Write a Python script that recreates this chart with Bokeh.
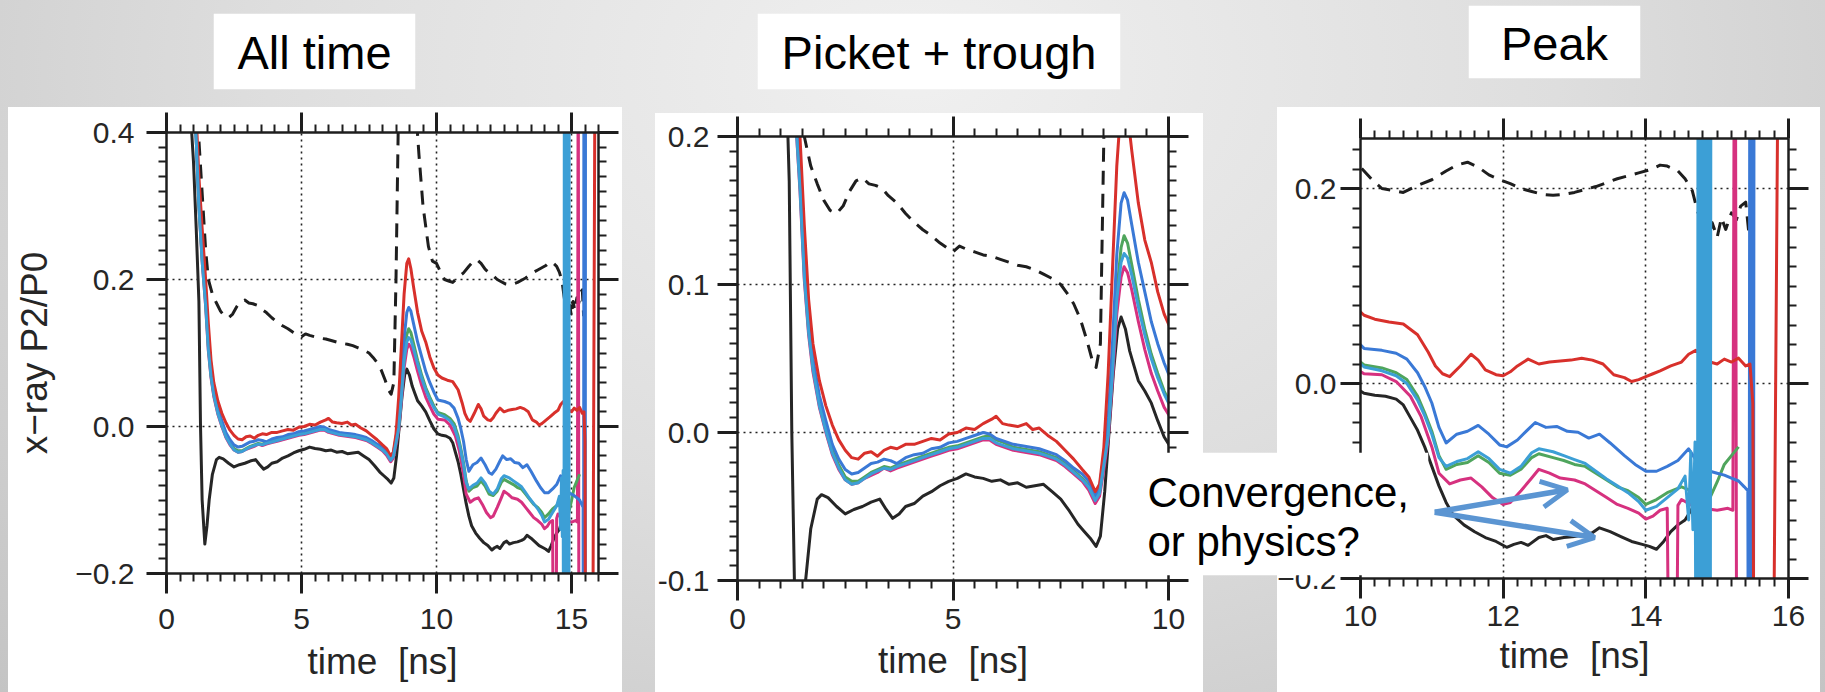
from bokeh.plotting import figure
from bokeh.models import (Range1d, LinearAxis, SingleIntervalTicker, CustomJSTickFormatter,
                          Column, Div, Arrow, OpenHead)
from bokeh.embed import file_html
from bokeh.resources import INLINE
from bokeh.core.properties import value

FONT = "Liberation Sans"
INK = "#1e1e1e"

# ---------------- texts ----------------
TITLES = ["All time", "Picket + trough", "Peak"]
X_LABEL = "time \u00a0[ns]"
Y_LABEL = "x\u2212ray P2/P0"
CALLOUT = ["Convergence,", "or physics?"]

# ---------------- data (time in ns, x-ray P2/P0) ----------------
BLACK_T = [0.9, 1.0, 1.1, 1.2, 1.26, 1.32, 1.42, 1.5, 1.58, 1.7,
           1.85, 1.95, 2.1, 2.3, 2.5, 2.7, 2.9, 3.1, 3.3, 3.45,
           3.6, 3.75, 3.9, 4.1, 4.3, 4.5, 4.7, 4.9, 5.1, 5.3,
           5.5, 5.7, 5.9, 6.1, 6.3, 6.5, 6.7, 6.9, 7.1, 7.3,
           7.5, 7.7, 7.9, 8.05, 8.2, 8.32, 8.42, 8.52, 8.62, 8.72,
           8.82, 8.9, 9.0, 9.1, 9.2, 9.3, 9.45, 9.6, 9.75, 9.9,
           10.05, 10.2, 10.35, 10.5, 10.6, 10.7, 10.8, 10.9, 11.0, 11.1,
           11.2, 11.3, 11.45, 11.6, 11.75, 11.9, 12.05, 12.15, 12.25, 12.35,
           12.5, 12.6, 12.7, 12.85, 13.0, 13.15, 13.25, 13.35, 13.5, 13.65,
           13.8, 13.95, 14.05, 14.15, 14.25, 14.35, 14.45, 14.55, 14.65, 14.72]
BLACK_V = [0.42, 0.36, 0.27, 0.17, 0.0, -0.1, -0.16, -0.135, -0.1, -0.065,
           -0.045, -0.042, -0.044, -0.05, -0.055, -0.052, -0.05, -0.047, -0.045, -0.052,
           -0.058, -0.055, -0.05, -0.048, -0.043, -0.04, -0.036, -0.033, -0.031, -0.028,
           -0.03, -0.031, -0.033, -0.032, -0.035, -0.034, -0.037, -0.036, -0.035, -0.04,
           -0.045, -0.053, -0.062, -0.067, -0.072, -0.077, -0.07, -0.04, 0.0, 0.04,
           0.07, 0.078, 0.07, 0.055, 0.045, 0.035, 0.028, 0.02, 0.008, -0.003,
           -0.01, -0.012, -0.013, -0.016, -0.022, -0.035, -0.048, -0.065, -0.085, -0.105,
           -0.122, -0.135, -0.145, -0.152, -0.158, -0.162, -0.168, -0.165, -0.163, -0.166,
           -0.158, -0.156, -0.16, -0.158, -0.157, -0.155, -0.153, -0.148, -0.152, -0.157,
           -0.162, -0.165, -0.167, -0.17, -0.162, -0.152, -0.145, -0.14, -0.128, -0.12]

DASH_T = [1.1, 1.3, 1.45, 1.55, 1.7, 1.85, 2.0, 2.15, 2.3, 2.45,
          2.6, 2.75, 2.9, 3.05, 3.2, 3.35, 3.5, 3.7, 3.9, 4.1,
          4.3, 4.5, 4.7, 4.85, 5.0, 5.15, 5.3, 5.5, 5.7, 5.9,
          6.1, 6.3, 6.5, 6.7, 6.9, 7.1, 7.3, 7.5, 7.65, 7.8,
          7.95, 8.1, 8.22, 8.32, 8.42, 8.5, 8.6, 9.2, 9.35, 9.5,
          9.7, 9.85, 10.0, 10.15, 10.3, 10.45, 10.6, 10.8, 11.0, 11.2,
          11.35, 11.5, 11.65, 11.8, 11.95, 12.1, 12.25, 12.4, 12.55, 12.7,
          12.85, 13.0, 13.15, 13.3, 13.45, 13.6, 13.75, 13.9, 14.05, 14.2,
          14.3, 14.45, 14.55, 14.65, 14.72, 14.8, 14.87, 14.93, 15.0, 15.06,
          15.12, 15.2, 15.27, 15.33, 15.4, 15.45]
DASH_V = [0.45, 0.33, 0.24, 0.2, 0.18, 0.168, 0.157, 0.15, 0.148, 0.153,
          0.163, 0.17, 0.172, 0.168, 0.167, 0.165, 0.16, 0.155, 0.148, 0.142,
          0.137, 0.133, 0.128, 0.125, 0.122, 0.126, 0.124, 0.122, 0.12, 0.119,
          0.117, 0.115, 0.113, 0.112, 0.11, 0.107, 0.104, 0.1, 0.094, 0.087,
          0.077, 0.063, 0.05, 0.044, 0.06, 0.2, 0.45, 0.45, 0.37, 0.3,
          0.245, 0.225, 0.222, 0.21, 0.2, 0.198, 0.196, 0.203, 0.209, 0.218,
          0.224, 0.227, 0.222, 0.214, 0.209, 0.205, 0.2, 0.197, 0.194, 0.193,
          0.194, 0.196, 0.199, 0.202, 0.206, 0.21, 0.213, 0.216, 0.219, 0.224,
          0.223, 0.218, 0.21, 0.198, 0.178, 0.16, 0.145, 0.165, 0.15, 0.17,
          0.158, 0.175, 0.168, 0.182, 0.186, 0.15]

RED_T = [1.08, 1.2, 1.32, 1.45, 1.55, 1.65, 1.75, 1.9, 2.05, 2.2,
         2.35, 2.5, 2.65, 2.8, 2.95, 3.1, 3.25, 3.4, 3.55, 3.7,
         3.9, 4.1, 4.3, 4.5, 4.7, 4.9, 5.1, 5.3, 5.5, 5.7,
         5.9, 6.0, 6.15, 6.3, 6.5, 6.7, 6.85, 7.0, 7.2, 7.4,
         7.6, 7.8, 8.0, 8.15, 8.3, 8.4, 8.5, 8.6, 8.7, 8.8,
         8.9, 8.97, 9.05, 9.15, 9.3, 9.45, 9.6, 9.75, 9.9, 10.05,
         10.2, 10.4, 10.6, 10.8, 10.95, 11.05, 11.15, 11.25, 11.4, 11.55,
         11.65, 11.75, 11.9, 12.0, 12.1, 12.2, 12.35, 12.5, 12.65, 12.8,
         12.95, 13.1, 13.25, 13.4, 13.55, 13.7, 13.8, 13.9, 14.0, 14.1,
         14.2, 14.35, 14.5, 14.6, 14.7, 14.8, 14.9, 15.0, 15.1, 15.2,
         15.3, 15.4, 15.46, 15.5, 15.53, 15.76, 15.88]
RED_V = [0.44, 0.34, 0.27, 0.2, 0.14, 0.09, 0.06, 0.035, 0.018, 0.005,
         -0.005, -0.012, -0.017, -0.018, -0.014, -0.013, -0.016, -0.012, -0.01, -0.011,
         -0.008, -0.008, -0.006, -0.004, -0.005, -0.001, 0.0, 0.003, 0.002, 0.006,
         0.009, 0.011, 0.006, 0.005, 0.004, 0.006, 0.002, 0.003, -0.002, -0.006,
         -0.012, -0.018, -0.025, -0.03, -0.04, -0.035, -0.01, 0.04, 0.11, 0.18,
         0.222, 0.228, 0.215, 0.19, 0.155, 0.13, 0.115, 0.095, 0.08, 0.07,
         0.066, 0.063, 0.061, 0.05, 0.032, 0.018, 0.01, 0.007, 0.018, 0.03,
         0.024, 0.014, 0.009, 0.008, 0.012, 0.018, 0.025, 0.02, 0.022, 0.023,
         0.024, 0.026, 0.024, 0.02, 0.009, 0.006, 0.002, 0.004, 0.007, 0.01,
         0.013, 0.018, 0.022, 0.03, 0.034, 0.028, 0.022, 0.02, 0.025, 0.022,
         0.026, 0.018, 0.02, -0.02, -0.6, -0.6, 0.6]

# shared sampling times of the four middle curves up to 10 ns
EARLY_T = [1.08, 1.2, 1.32, 1.45, 1.55, 1.65, 1.75, 1.9, 2.05, 2.2,
           2.35, 2.5, 2.65, 2.8, 2.95, 3.1, 3.25, 3.4, 3.55, 3.7,
           3.9, 4.1, 4.3, 4.5, 4.7, 4.9, 5.1, 5.3, 5.5, 5.7,
           5.85, 6.0, 6.2, 6.4, 6.6, 6.8, 7.0, 7.2, 7.4, 7.6,
           7.8, 8.0, 8.15, 8.3, 8.4, 8.5, 8.6, 8.7, 8.8, 8.9,
           8.97, 9.05, 9.15, 9.3, 9.45, 9.6, 9.75, 9.9, 10.05]

BLUE_EARLY = [0.41, 0.31, 0.24, 0.18, 0.12, 0.08, 0.05, 0.025, 0.008, -0.008,
              -0.018, -0.025, -0.028, -0.027, -0.024, -0.021, -0.02, -0.018, -0.019, -0.021,
              -0.017, -0.015, -0.014, -0.011, -0.01, -0.007, -0.006, -0.004, -0.002, 0.0,
              -0.001, -0.004, -0.006, -0.008, -0.009, -0.01, -0.011, -0.013, -0.015, -0.019,
              -0.024, -0.028, -0.033, -0.043, -0.037, -0.015, 0.01, 0.06, 0.12, 0.155,
              0.162, 0.157, 0.14, 0.115, 0.095, 0.075, 0.06, 0.047, 0.036]
BLUE_LATE_T = [10.3, 10.5, 10.65, 10.8, 10.9, 11.0, 11.1, 11.2, 11.35, 11.5,
               11.65, 11.8, 11.95, 12.05, 12.2, 12.35, 12.45, 12.6, 12.75, 12.9,
               13.05, 13.2, 13.35, 13.5, 13.7, 13.85, 14.0, 14.15, 14.3, 14.45,
               14.6, 14.7, 14.8, 14.9, 15.0, 15.1, 15.2, 15.3, 15.38, 15.43,
               15.445, 15.46, 15.475, 15.49, 15.505, 15.52]
BLUE_LATE_V = [0.034, 0.031, 0.025, 0.011, -0.003, -0.02, -0.045, -0.061, -0.052, -0.049,
               -0.043, -0.052, -0.063, -0.065, -0.058, -0.047, -0.04, -0.045, -0.044, -0.049,
               -0.05, -0.056, -0.052, -0.061, -0.074, -0.083, -0.09, -0.09, -0.085, -0.079,
               -0.067, -0.078, -0.088, -0.09, -0.092, -0.094, -0.097, -0.1, -0.106, -0.11,
               -0.6, 0.6, -0.6, 0.6, -0.6, 0.6]

GREEN_EARLY = [0.41, 0.30, 0.23, 0.17, 0.11, 0.07, 0.045, 0.02, 0.003, -0.012,
               -0.022, -0.03, -0.033, -0.033, -0.03, -0.027, -0.025, -0.023, -0.024, -0.022,
               -0.02, -0.018, -0.016, -0.014, -0.012, -0.01, -0.009, -0.007, -0.005, -0.003,
               -0.002, -0.005, -0.007, -0.01, -0.011, -0.012, -0.013, -0.015, -0.017, -0.021,
               -0.026, -0.031, -0.036, -0.045, -0.04, -0.02, 0.0, 0.045, 0.095, 0.125,
               0.133, 0.128, 0.113, 0.09, 0.07, 0.053, 0.04, 0.028, 0.019]
GREEN_LATE_T = [10.3, 10.5, 10.65, 10.8, 10.9, 11.0, 11.1, 11.2, 11.35, 11.5,
                11.65, 11.8, 11.95, 12.1, 12.25, 12.4, 12.5, 12.7, 12.85, 13.0,
                13.15, 13.3, 13.45, 13.6, 13.75, 13.9, 14.0, 14.15, 14.3, 14.5,
                14.7, 14.9, 15.0, 15.1, 15.2, 15.3]
GREEN_LATE_V = [0.016, 0.011, 0.004, -0.013, -0.03, -0.049, -0.074, -0.088, -0.083, -0.081,
                -0.074, -0.081, -0.092, -0.094, -0.088, -0.076, -0.072, -0.076, -0.079, -0.083,
                -0.085, -0.092, -0.099, -0.106, -0.11, -0.117, -0.124, -0.119, -0.112, -0.106,
                -0.112, -0.117, -0.101, -0.083, -0.074, -0.065]

CYAN_EARLY = [0.41, 0.30, 0.225, 0.165, 0.105, 0.068, 0.043, 0.018, 0.001, -0.014,
              -0.024, -0.032, -0.035, -0.034, -0.031, -0.028, -0.026, -0.024, -0.025, -0.023,
              -0.021, -0.019, -0.017, -0.015, -0.013, -0.011, -0.01, -0.008, -0.006, -0.004,
              -0.004, -0.007, -0.009, -0.011, -0.012, -0.013, -0.014, -0.016, -0.018, -0.022,
              -0.027, -0.032, -0.037, -0.046, -0.041, -0.022, -0.002, 0.04, 0.09, 0.115,
              0.121, 0.118, 0.106, 0.085, 0.066, 0.05, 0.037, 0.026, 0.017]
CYAN_LATE_T = [10.3, 10.5, 10.65, 10.8, 10.9, 11.0, 11.1, 11.2, 11.35, 11.5,
               11.65, 11.8, 11.95, 12.1, 12.25, 12.4, 12.5, 12.7, 12.85, 13.0,
               13.15, 13.3, 13.45, 13.6, 13.75, 13.9, 14.0, 14.15, 14.3, 14.45,
               14.55, 14.6, 14.63, 14.66, 14.69, 14.72, 14.735, 14.75, 14.765, 14.78,
               14.795, 14.81, 14.825, 14.84, 14.855, 14.87, 14.885, 14.9, 14.915]
CYAN_LATE_V = [0.013, 0.008, 0.0, -0.017, -0.033, -0.052, -0.076, -0.085, -0.08, -0.077,
               -0.07, -0.077, -0.088, -0.092, -0.085, -0.071, -0.067, -0.07, -0.074, -0.078,
               -0.082, -0.09, -0.098, -0.105, -0.112, -0.121, -0.13, -0.126, -0.117, -0.108,
               -0.095, -0.14, -0.07, -0.15, -0.06, -0.6, 0.6, -0.6, 0.6, -0.6,
               0.6, -0.6, 0.6, -0.6, 0.6, -0.6, 0.6, -0.6, 0.6]

MAGENTA_EARLY = [0.41, 0.30, 0.225, 0.163, 0.103, 0.066, 0.041, 0.017, 0.0, -0.015,
                 -0.025, -0.032, -0.035, -0.034, -0.031, -0.029, -0.027, -0.024, -0.026, -0.024,
                 -0.022, -0.02, -0.018, -0.016, -0.014, -0.012, -0.011, -0.009, -0.007, -0.005,
                 -0.005, -0.008, -0.01, -0.012, -0.013, -0.014, -0.015, -0.017, -0.019, -0.023,
                 -0.028, -0.033, -0.039, -0.048, -0.043, -0.025, -0.005, 0.035, 0.08, 0.105,
                 0.112, 0.108, 0.096, 0.075, 0.056, 0.04, 0.028, 0.017, 0.01]
MAGENTA_LATE_T = [10.3, 10.5, 10.7, 10.85, 11.0, 11.1, 11.25, 11.4, 11.55, 11.7,
                  11.85, 12.0, 12.1, 12.25, 12.4, 12.5, 12.65, 12.8, 13.0, 13.15,
                  13.3, 13.45, 13.6, 13.75, 13.9, 14.0, 14.1, 14.2, 14.3, 14.36,
                  14.4, 14.45, 14.5, 14.65, 14.8, 15.0, 15.15, 15.22, 15.25, 15.28]
MAGENTA_LATE_V = [0.009, 0.002, -0.013, -0.034, -0.065, -0.092, -0.103, -0.099, -0.097, -0.106,
                  -0.117, -0.124, -0.122, -0.11, -0.097, -0.088, -0.092, -0.097, -0.099, -0.103,
                  -0.11, -0.117, -0.124, -0.128, -0.133, -0.139, -0.136, -0.13, -0.128, -0.6,
                  -0.6, -0.125, -0.119, -0.125, -0.128, -0.13, -0.128, -0.13, 0.6, -0.6]

# drawing order: (times, values, colour, dash, width)
SERIES = [
    (DASH_T, DASH_V, "#1e1e1e", "14 9", 3.0),
    (BLACK_T, BLACK_V, "#262626", "solid", 3.0),
    (EARLY_T + MAGENTA_LATE_T, MAGENTA_EARLY + MAGENTA_LATE_V, "#d6317f", "solid", 3.0),
    (EARLY_T + GREEN_LATE_T, GREEN_EARLY + GREEN_LATE_V, "#4fa55d", "solid", 3.0),
    (EARLY_T + BLUE_LATE_T, BLUE_EARLY + BLUE_LATE_V, "#3a79d6", "solid", 3.0),
    (RED_T, RED_V, "#d8302b", "solid", 3.0),
    (EARLY_T + CYAN_LATE_T, CYAN_EARLY + CYAN_LATE_V, "#3c9fd6", "solid", 3.0),
]

MINUS_FMT = CustomJSTickFormatter(code="""
    const a = Math.abs(tick) < 1e-9 ? 0 : tick;
    return (a < 0 ? "\u2212" : "") + Math.abs(a).toFixed(1);
""")
HYPHEN_FMT = CustomJSTickFormatter(code="""
    const a = Math.abs(tick) < 1e-9 ? 0 : tick;
    return a.toFixed(1);
""")
INT_FMT = CustomJSTickFormatter(code="return Math.round(tick).toString();")


def at(left, top):
    return {"position": "absolute", "left": f"{left}px", "top": f"{top}px"}


def style_axis(ax, size, show=True, standoff=8, tick_out=20):
    ax.axis_line_color = INK
    ax.axis_line_width = 2.5
    ax.major_tick_line_color = INK
    ax.major_tick_line_width = 3
    ax.major_tick_in = 0
    ax.major_tick_out = tick_out
    ax.minor_tick_line_color = INK
    ax.minor_tick_line_width = 2
    ax.minor_tick_in = 0
    ax.minor_tick_out = 8
    ax.major_label_text_font = FONT
    if show:
        ax.major_label_text_font_size = f"{size}px"
        ax.major_label_text_color = "#262626"
        ax.major_label_standoff = standoff
    else:
        ax.major_label_text_font_size = "1px"
        ax.major_label_text_color = None
        ax.major_label_standoff = 0
    ax.axis_label_text_font = FONT
    ax.axis_label_text_font_style = "normal"
    ax.axis_label_text_font_size = "37px"
    ax.axis_label_text_color = "#262626"


# All canvases share the same left/right borders (the column aligns plot frames),
# and are transparent, placed absolutely so their frames land where wanted.
BL, BR, BT, BB = 166, 60, 60, 170

# frame placement in page pixels: (left, top, right, bottom); white card: (left, top, w, h)
PANELS = [
    dict(frame=(166, 132, 598, 573), card=(8, 107, 614, 585),
         xr=(0, 16), yr=(-0.2, 0.4), xi=5, yi=0.2,
         ylabel=True, yfmt=MINUS_FMT, ystand=12, xstand=15, tstand=9),
    dict(frame=(737, 136, 1168, 580), card=(655, 113, 548, 579),
         xr=(0, 10), yr=(-0.1, 0.2), xi=5, yi=0.1,
         ylabel=False, yfmt=HYPHEN_FMT, ystand=8, xstand=8, tstand=8),
    dict(frame=(1360, 138, 1788, 578), card=(1277, 107, 543, 585),
         xr=(10, 16), yr=(-0.2, 0.2513), xi=2, yi=0.2,
         ylabel=False, yfmt=MINUS_FMT, ystand=4, xstand=7, tstand=6),
]

children = []
figs = []
for spec in PANELS:
    cl, ct, cw, ch = spec["card"]
    children.append(Div(text="", width=cw, height=ch, margin=0,
                        styles={**at(cl, ct), "background-color": "white"}))
    fl, ftop, fr, fb = spec["frame"]
    p = figure(width=BL + (fr - fl) + BR, height=BT + (fb - ftop) + BB,
               x_range=Range1d(*spec["xr"]), y_range=Range1d(*spec["yr"]),
               output_backend="svg", toolbar_location=None, title=None,
               min_border_left=BL, min_border_right=BR, min_border_top=BT, min_border_bottom=BB,
               background_fill_color=None, border_fill_color=None, outline_line_color=None,
               styles=at(fl - BL, ftop - BT))
    xt = SingleIntervalTicker(interval=spec["xi"], num_minor_ticks=10)
    yt = SingleIntervalTicker(interval=spec["yi"], num_minor_ticks=10)
    p.xaxis.ticker = xt
    p.yaxis.ticker = yt
    p.xaxis.formatter = INT_FMT
    p.yaxis.formatter = spec["yfmt"]
    style_axis(p.xaxis[0], 30, True, spec["xstand"])
    style_axis(p.yaxis[0], 30, True, spec["ystand"])
    p.xaxis.axis_label = X_LABEL
    p.xaxis.axis_label_standoff = spec["tstand"]
    if spec["ylabel"]:
        p.yaxis.axis_label = Y_LABEL
        p.yaxis.axis_label_standoff = 17
    top_ax = LinearAxis(ticker=xt)
    style_axis(top_ax, 0, False)
    p.add_layout(top_ax, "above")
    right_ax = LinearAxis(ticker=yt)
    style_axis(right_ax, 0, False)
    p.add_layout(right_ax, "right")

    p.xgrid.ticker = xt
    p.ygrid.ticker = yt
    for g in (p.xgrid[0], p.ygrid[0]):
        g.grid_line_color = "#222222"
        g.grid_line_dash = "2 4"
        g.grid_line_width = 1.6

    for t, v, col, dash, lw in SERIES:
        p.line(t, v, line_color=col, line_width=lw, line_dash=dash, line_join="round")
    figs.append(p)
    children.append(p)

# arrows of the callout, pointing at the curves in the "Peak" panel
ARROW_COL = "#5b95d2"
for xe, ye in [(12.9, -0.109), (13.28, -0.158)]:
    figs[2].add_layout(Arrow(end=OpenHead(size=26, line_width=5, line_color=ARROW_COL),
                             x_start=11.04, y_start=-0.132, x_end=xe, y_end=ye,
                             line_width=5.5, line_color=ARROW_COL))


def text_card(left, top, w, h, lines, size, ys, align="center"):
    """A white box with text, as its own small transparent-bordered figure."""
    c = figure(width=BL + w + BR, height=h + 80,
               x_range=Range1d(0, w), y_range=Range1d(h, 0),
               output_backend="svg", toolbar_location=None, title=None,
               min_border_left=BL, min_border_right=BR, min_border_top=40, min_border_bottom=40,
               background_fill_color=None, border_fill_color=None, outline_line_color=None,
               styles=at(left - BL, top - 40))
    c.axis.visible = False
    c.grid.visible = False
    c.quad(left=[0], right=[w], top=[0], bottom=[h], fill_color="white", line_color=None)
    xs = [w / 2 if align == "center" else 12] * len(lines)
    c.text(x=xs, y=ys, text=lines, text_font=value(FONT), text_font_size=f"{size}px",
           text_align=align, text_baseline="middle", text_color="black")
    return c


# ---------------- title boxes ----------------
children.append(text_card(213, 13, 202, 76, [TITLES[0]], 47, [39]))
children.append(text_card(757, 13, 363, 76, [TITLES[1]], 47, [39]))
children.append(text_card(1468, 5, 172, 73, [TITLES[2]], 47, [38]))

# ---------------- callout box (drawn last, on top) ----------------
children.append(text_card(1135, 452, 293, 123, CALLOUT, 42, [40, 89], align="left"))

root = Column(children=children, width=1825, height=692,
              styles={"position": "relative", "overflow": "hidden",
                      "background": "radial-gradient(ellipse at 50% 10%, #f0f0f0 0%, #dedede 50%, #c4c4c4 100%)"})

open("out.html", "w").write(file_html(root, INLINE))
